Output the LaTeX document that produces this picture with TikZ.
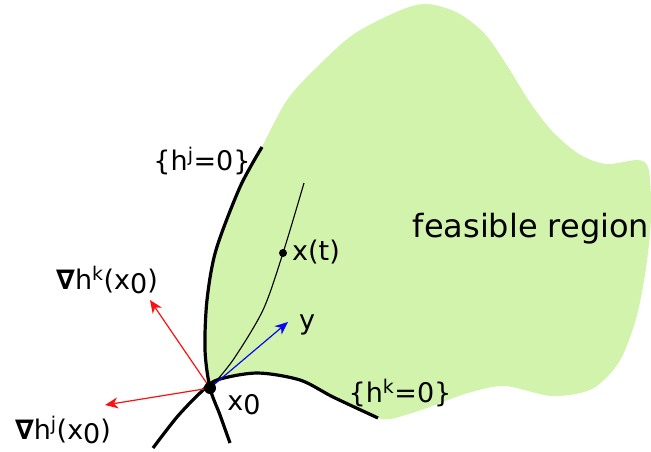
\documentclass[tikz,border=0pt]{standalone}
\usepackage{fontspec}
\setmainfont{DejaVu Sans}
\usetikzlibrary{arrows.meta}
\definecolor{Feas}{HTML}{D1F3AC}
\definecolor{Grad}{HTML}{FF1010}
\definecolor{Dir}{HTML}{0A0AF0}
\newcommand{\lowsub}[1]{\raisebox{-0.3ex}{#1}}
\newcommand{\gradsym}{{\bfseries ∇}}

\begin{document}
\begin{tikzpicture}[x=1pt,y=-1pt,
 lbl/.style={font=\fontsize{27}{31}\selectfont,inner sep=0pt},
 bnd/.style={line width=3.2pt},
 pt/.style={circle,fill=black,inner sep=0pt,minimum size=#1},
 g/.style={-{Stealth[length=13pt,width=11pt,inset=4pt]},draw=Grad,line width=1.2pt},
 d/.style={g,draw=Dir}
]
\useasboundingbox (0,0) rectangle (651,451);
% feasible set
\fill[Feas] plot[smooth] coordinates {(210,388) (205,350) (207,300) (216,250) (240,187) (262,147)}
 -- plot[smooth] coordinates {(262,147) (287,100) (317,67) (354,34) (401,10) (428,4) (458,13) (485,34) (508,67) (529,101) (552,131) (579,154) (606,164) (639,160) (649,171) (651,218) (646,268) (636,319) (619,362) (592,389) (552,396) (505,386) (468,393) (424,409) (391,419) (378,418)}
 -- plot[smooth] coordinates {(378,418) (333,397) (300,380) (257,373) (217,380) (210,388)} -- cycle;
% constraint curves
\draw[bnd] plot[smooth] coordinates {(262,147) (240,187) (216,250) (207,300) (205,350) (210,388) (220,415) (230,443)};
\draw[bnd] plot[smooth] coordinates {(153,448) (177,417) (200,393) (217,380) (257,373) (300,380) (333,397) (378,418)};
% path x(t)
\draw[line width=1.1pt] plot[smooth] coordinates {(210,388) (233,360) (263,310) (283,253) (304,183)};
\node[pt=8pt] (xt) at (283,253) {};
\coordinate (o) at (210,388);
\coordinate (gk) at (150,300);
\coordinate (gj) at (105,405);
\coordinate (dy) at (288,322);
\draw[g] (o) -- (gk);
\draw[g] (o) -- (gj);
\draw[d] (o) -- (dy);
\node[pt=12pt] (x0) at (o) {};
% labels
\node[lbl] (hj) at (202,161) {\{h\textsuperscript{j}=0\}};
\node[lbl] (hk) at (400,393) {\{h\textsuperscript{k}=0\}};
\node[lbl,font=\fontsize{32}{36}\selectfont] (fr) at (531,229) {feasible region};
\node[lbl,anchor=west] (lxt) at (292,252) {x(t)};
\node[lbl] (ly) at (307,325) {y};
\node[lbl] (lx0) at (244,405) {x\lowsub{0}};
\node[lbl] (lgk) at (107,280) {\gradsym h\textsuperscript{k}(x\lowsub{0})};
\node[lbl] (lgj) at (63,430) {\gradsym h\textsuperscript{j}(x\lowsub{0})};
\end{tikzpicture}
\end{document}
